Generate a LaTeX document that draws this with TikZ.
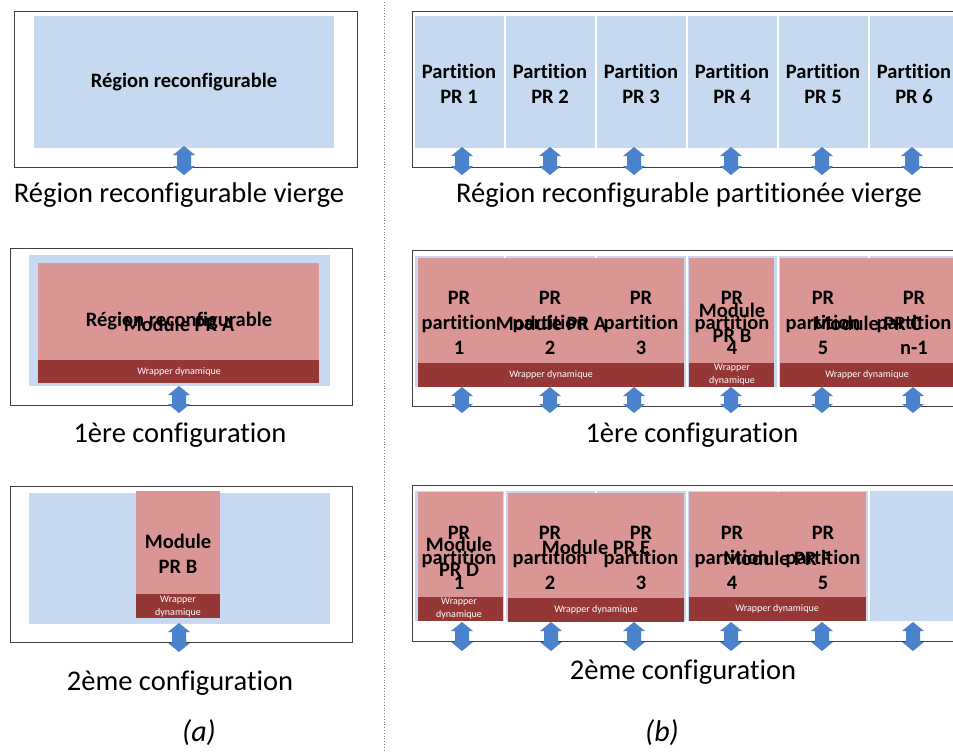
\documentclass[tikz,border=0pt]{standalone}
\usepackage{fontspec}
\setmainfont{Carlito}[Ligatures={NoCommon}]
\definecolor{regblue}{RGB}{198,217,240}
\definecolor{modred}{RGB}{217,150,148}
\definecolor{wrapred}{RGB}{149,55,53}
\definecolor{arrowblue}{RGB}{74,130,204}
\newcommand{\dblarrow}[4]{%
  \coordinate (#1) at (#2,{(#3+#4)/2});
  \fill[arrowblue] (#2,#3) -- (#2+11,#3+9) -- (#2+7,#3+9) -- (#2+7,#4-9) -- (#2+11,#4-9) -- (#2,#4)
    -- (#2-11,#4-9) -- (#2-7,#4-9) -- (#2-7,#3+9) -- (#2-11,#3+9) -- cycle;}
\begin{document}
\begin{tikzpicture}[x=1pt,y=-1pt,
  outerbox/.style={draw=black!75,line width=0.9pt,fill=white},
  regfill/.style={fill=regblue},
  modfill/.style={fill=modred},
  wrapfill/.style={fill=wrapred},
  lbl/.style={font=\bfseries\fontsize{20.5}{25}\selectfont,align=center,inner sep=0pt},
  wtxt/.style={font=\fontsize{10}{13}\selectfont,text=white,align=center,inner sep=0pt},
  captxt/.style={font=\fontsize{28.5}{32}\selectfont,inner sep=0pt},
  sublbl/.style={font=\itshape\fontsize{30}{34}\selectfont,inner sep=0pt},
  sepline/.style={draw=black!50,dotted,line width=0.8pt}]
\path[use as bounding box] (0,0) rectangle (953,753);
\clip (0,0) rectangle (953,753);
\fill[white] (0,0) rectangle (953,753);

% separator
\coordinate (septop) at (384,2);
\coordinate (sepbot) at (384,751);
\draw[sepline] (septop) -- (sepbot);

% ---------- Panel (a) ----------
% row 1
\draw[outerbox] (14,11) rectangle (357,167);
\fill[regfill] (34,16) rectangle (334,148);
\node[lbl] (a1t) at (184,82) {Région reconfigurable};
\dblarrow{a1a}{184}{146}{175}
\node[captxt] (a1c) at (179,195) {Région reconfigurable vierge};

% row 2
\draw[outerbox] (10,248) rectangle (352,405);
\fill[regfill] (29,255) rectangle (330,386);
\fill[modfill] (38,263) rectangle (319,360);
\fill[wrapfill] (38,360) rectangle (319,383);
\node[lbl] (a2r) at (179,321) {Région reconfigurable};
\node[lbl] (a2m) at (179,324) {Module PR A};
\node[wtxt] (a2w) at (179,372) {Wrapper dynamique};
\dblarrow{a2a}{179}{386}{413}
\node[captxt] (a2c) at (180,435) {1ère configuration};

% row 3
\draw[outerbox] (10,486) rectangle (352,642);
\fill[regfill] (29,493) rectangle (330,624);
\fill[modfill] (136,491) rectangle (220,594);
\fill[wrapfill] (136,594) rectangle (220,618);
\node[lbl] (a3m) at (178,554) {Module\\PR B};
\node[wtxt] (a3w) at (178,607) {Wrapper\\dynamique};
\dblarrow{a3a}{179}{623}{652}
\node[captxt] (a3c) at (180,683) {2ème configuration};
\node[sublbl] (alab) at (199,733) {(a)};

% ---------- Panel (b) ----------
% row 1
\draw[outerbox] (412,11) rectangle (990,167);
\foreach \i in {0,...,5}{
  \fill[regfill] ({415+91*\i},16) rectangle ({504+91*\i},148);
  \pgfmathtruncatemacro{\n}{\i+1}
  \node[lbl] (b1t\n) at ({459+91*\i},84) {Partition\\PR \n};
}
\dblarrow{b1a1}{462}{147}{175}
\dblarrow{b1a2}{550}{147}{175}
\dblarrow{b1a3}{634}{147}{175}
\dblarrow{b1a4}{731}{147}{175}
\dblarrow{b1a5}{822}{147}{175}
\dblarrow{b1a6}{912}{147}{175}
\node[captxt] (b1c) at (689,195) {Région reconfigurable partitionée vierge};

% row 2
\draw[outerbox] (412,250) rectangle (990,406);
\foreach \i in {0,...,5}{
  \fill[regfill] ({415+91*\i},256) rectangle ({504+91*\i},387);
}
\fill[modfill] (418,258) rectangle (684,363);
\fill[wrapfill] (418,363) rectangle (684,387);
\fill[modfill] (689,258) rectangle (774,363);
\fill[wrapfill] (689,363) rectangle (774,387);
\fill[modfill] (780,258) rectangle (990,363);
\fill[wrapfill] (780,363) rectangle (990,387);
\foreach \i/\t in {0/1,1/2,2/3,3/4,4/5,5/n-1}{
  \node[lbl] (b2p\i) at ({459+91*\i},323) {PR\\partition\\\t};
}
\node[lbl] (b2ma) at (551,323) {Module PR A};
\node[lbl] (b2mb) at (732,323) {Module\\PR B};
\node[lbl] (b2mc) at (867,323) {Module PR C};
\node[wtxt] (b2wa) at (551,375) {Wrapper dynamique};
\node[wtxt] (b2wb) at (732,375) {Wrapper\\dynamique};
\node[wtxt] (b2wc) at (867,375) {Wrapper dynamique};
\dblarrow{b2a1}{462}{387}{413}
\dblarrow{b2a2}{550}{387}{413}
\dblarrow{b2a3}{634}{387}{413}
\dblarrow{b2a4}{731}{387}{413}
\dblarrow{b2a5}{822}{387}{413}
\dblarrow{b2a6}{913}{387}{413}
\node[captxt] (b2c) at (692,435) {1ère configuration};

% row 3
\draw[outerbox] (412,485) rectangle (990,641);
\foreach \i in {0,...,5}{
  \fill[regfill] ({415+91*\i},491) rectangle ({504+91*\i},621);
}
\fill[regfill] (870,491) rectangle (990,621);
\fill[modfill] (418,492) rectangle (503,597);
\fill[wrapfill] (418,597) rectangle (503,621);
\fill[modfill] (508,493) rectangle (684,598);
\fill[wrapfill] (508,598) rectangle (684,622);
\fill[modfill] (689,492) rectangle (866,597);
\fill[wrapfill] (689,597) rectangle (866,621);
\foreach \i in {0,...,4}{
  \pgfmathtruncatemacro{\n}{\i+1}
  \node[lbl] (b3p\n) at ({459+91*\i},558) {PR\\partition\\\n};
}
\node[lbl] (b3md) at (459,557) {Module\\PR D};
\node[lbl] (b3me) at (596,547) {Module PR E};
\node[lbl] (b3mf) at (777,558) {Module PR F};
\node[wtxt] (b3wd) at (459,609) {Wrapper\\dynamique};
\node[wtxt] (b3we) at (596,610) {Wrapper dynamique};
\node[wtxt] (b3wf) at (777,609) {Wrapper dynamique};
\dblarrow{b3a1}{462}{622}{651}
\dblarrow{b3a2}{551}{622}{651}
\dblarrow{b3a3}{634}{622}{651}
\dblarrow{b3a4}{731}{622}{651}
\dblarrow{b3a5}{822}{622}{651}
\dblarrow{b3a6}{913}{622}{651}
\node[captxt] (b3c) at (683,672) {2ème configuration};
\node[sublbl] (blab) at (662,733) {(b)};
\end{tikzpicture}
\end{document}
